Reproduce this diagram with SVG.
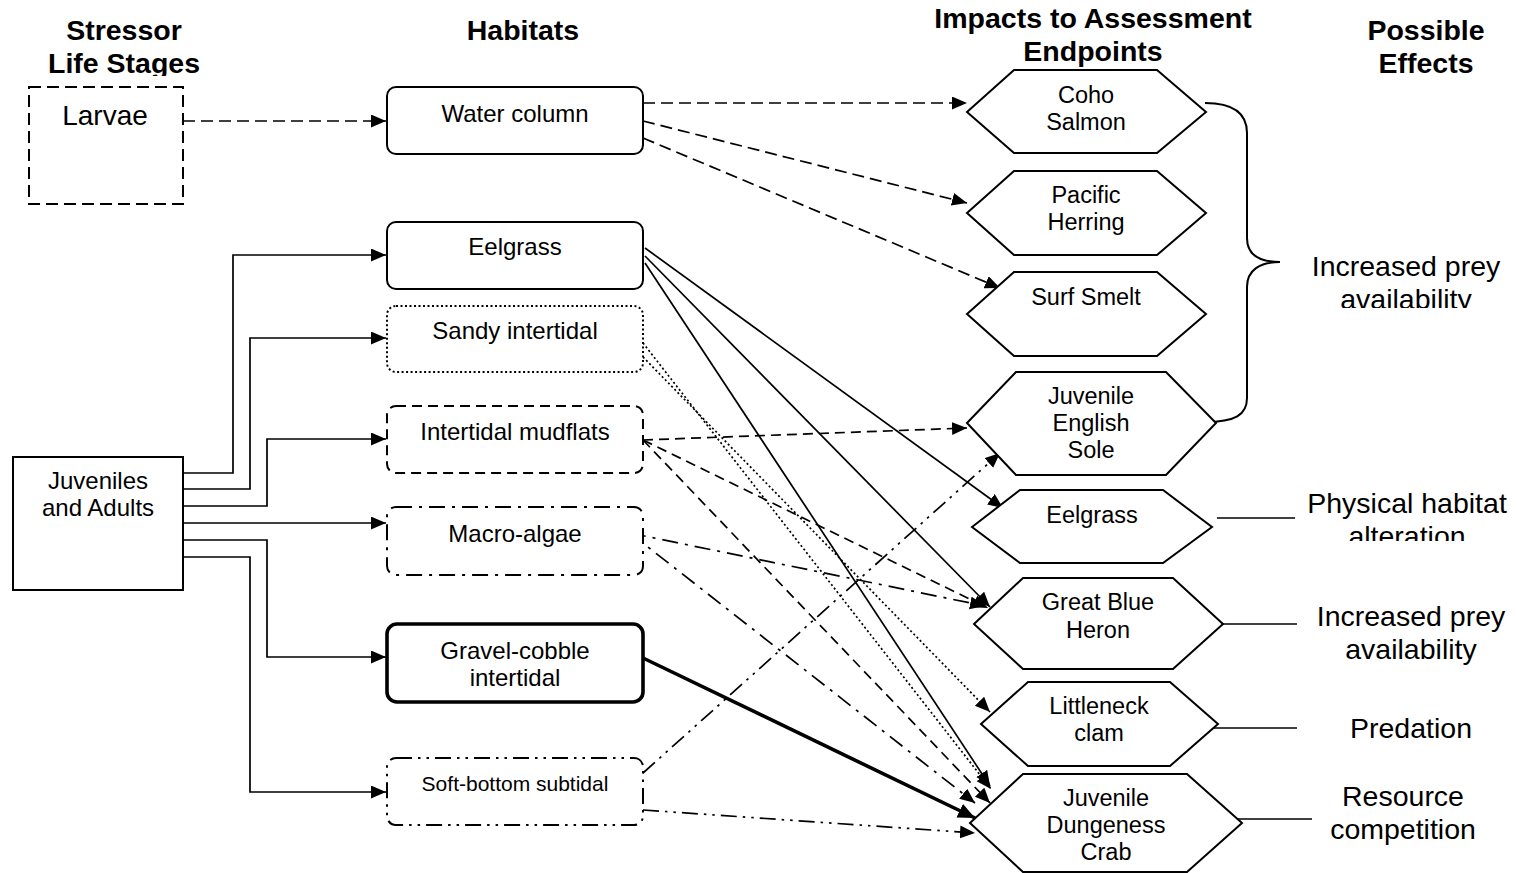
<svg xmlns="http://www.w3.org/2000/svg" width="1517" height="873" viewBox="0 0 1517 873">
  <style>
    text { font-family: "Liberation Sans", Arial, sans-serif; fill: #000; text-anchor: middle; }
    .hdr { font-size: 28.5px; font-weight: bold; }
    .big { font-size: 28.5px; }
    .hab { font-size: 24px; }
    .hex-label { font-size: 23.5px; }
    .box { fill: #fff; stroke: #000; stroke-width: 2; }
    .hex { fill: #fff; stroke: #000; stroke-width: 2; stroke-linejoin: miter; }
    .ln { fill: none; stroke: #000; stroke-width: 1.7; }
    .solid { }
    .thick { stroke-width: 3.6; }
    .dash { stroke-dasharray: 12 6; }
    .dash2 { stroke-dasharray: 10 6; }
    .dot { stroke-dasharray: 2 2.5; }
    .dashdot { stroke-dasharray: 16 7 3 7; }
    .dashdotdot { stroke-dasharray: 16 6 2.5 6 2.5 6; }
  </style>
  <defs>
    <marker id="arrow" markerUnits="userSpaceOnUse" markerWidth="16" markerHeight="14" refX="15" refY="6.5" orient="auto">
      <path d="M0,0 L15,6.5 L0,13 z" fill="#000"/>
    </marker>
    <marker id="arrow-lg" markerUnits="userSpaceOnUse" markerWidth="18" markerHeight="16" refX="17" refY="7.5" orient="auto">
      <path d="M0,0 L17,7.5 L0,15 z" fill="#000"/>
    </marker>
    <clipPath id="clip-life"><rect x="0" y="0" width="300" height="76"/></clipPath>
    <clipPath id="clip-avail1"><rect x="1290" y="280" width="227" height="28"/></clipPath>
    <clipPath id="clip-alter"><rect x="1290" y="518" width="227" height="23"/></clipPath>
  </defs>

  <!-- column headings -->
  <g id="headings">
    <text class="hdr" x="124" y="40">Stressor</text>
    <text class="hdr" x="124" y="73" clip-path="url(#clip-life)">Life Stages</text>
    <text class="hdr" x="523" y="40">Habitats</text>
    <text class="hdr" x="1093" y="28">Impacts to Assessment</text>
    <text class="hdr" x="1093" y="61">Endpoints</text>
    <text class="hdr" x="1426" y="40">Possible</text>
    <text class="hdr" x="1426" y="73">Effects</text>
  </g>

  <!-- connectors -->
  <g id="connectors">
    <!-- larvae -->
    <line class="ln dash" x1="183" y1="121" x2="386" y2="121" marker-end="url(#arrow)"/>
    <!-- juveniles and adults to habitats -->
    <polyline class="ln" points="183,473 233,473 233,255 386,255" marker-end="url(#arrow)"/>
    <polyline class="ln" points="183,489 250,489 250,338 386,338" marker-end="url(#arrow)"/>
    <polyline class="ln" points="183,506 267,506 267,439 386,439" marker-end="url(#arrow)"/>
    <polyline class="ln" points="183,523 386,523" marker-end="url(#arrow)"/>
    <polyline class="ln" points="183,540 267,540 267,657 386,657" marker-end="url(#arrow)"/>
    <polyline class="ln" points="183,557 250,557 250,792 386,792" marker-end="url(#arrow)"/>

    <!-- water column -->
    <line class="ln dash" x1="643" y1="103" x2="967" y2="103" marker-end="url(#arrow)"/>
    <line class="ln dash" x1="643" y1="121" x2="967" y2="203" marker-end="url(#arrow)"/>
    <line class="ln dash" x1="643" y1="138" x2="1000" y2="288" marker-end="url(#arrow)"/>

    <!-- eelgrass -->
    <line class="ln" x1="645" y1="248" x2="1003" y2="508" marker-end="url(#arrow)"/>
    <line class="ln" x1="645" y1="256" x2="990" y2="607" marker-end="url(#arrow)"/>
    <line class="ln" x1="645" y1="263" x2="990" y2="786" marker-end="url(#arrow)"/>

    <!-- sandy intertidal -->
    <line class="ln dot" x1="643" y1="357" x2="990" y2="712" marker-end="url(#arrow)"/>
    <line class="ln dot" x1="643" y1="343" x2="991" y2="789" marker-end="url(#arrow)"/>

    <!-- intertidal mudflats -->
    <line class="ln dash2" x1="643" y1="440" x2="967" y2="428" marker-end="url(#arrow)"/>
    <line class="ln dash2" x1="643" y1="440" x2="988" y2="608" marker-end="url(#arrow)"/>
    <line class="ln dash2" x1="643" y1="440" x2="990" y2="803" marker-end="url(#arrow)"/>

    <!-- macro-algae -->
    <line class="ln dashdot" x1="630" y1="533" x2="985" y2="606" marker-end="url(#arrow)"/>
    <line class="ln dashdot" x1="630" y1="533" x2="975" y2="803" marker-end="url(#arrow)"/>

    <!-- gravel-cobble intertidal -->
    <line class="ln thick" x1="643" y1="658" x2="975" y2="818" marker-end="url(#arrow-lg)"/>

    <!-- soft-bottom subtidal -->
    <line class="ln dashdotdot" x1="643" y1="773" x2="1000" y2="453" marker-end="url(#arrow)"/>
    <line class="ln dashdotdot" x1="643" y1="810" x2="975" y2="833" marker-end="url(#arrow)"/>

    <!-- endpoints to effects -->
    <path class="ln" style="stroke-width:2" d="M1205,103 C1235,103 1247,115 1247,133 L1247,238 C1247,255 1260,262 1280,262 C1260,262 1247,270 1247,287 L1247,398 C1247,415 1235,422 1205,422"/>
    <line class="ln" x1="1217" y1="518" x2="1295" y2="518"/>
    <line class="ln" x1="1223" y1="624" x2="1297" y2="624"/>
    <line class="ln" x1="1213" y1="728" x2="1297" y2="728"/>
    <line class="ln" x1="1232" y1="819" x2="1312" y2="819"/>
  </g>

  <!-- stressor life stages -->
  <g id="larvae">
    <rect class="box dash" x="29" y="87" width="154" height="117"/>
    <text class="big" x="105" y="125" style="font-size:28px">Larvae</text>
  </g>
  <g id="juveniles-adults">
    <rect class="box" x="13" y="457" width="170" height="133"/>
    <text class="hab" x="98" y="489">Juveniles</text>
    <text class="hab" x="98" y="516">and Adults</text>
  </g>

  <!-- habitats -->
  <g id="water-column">
    <rect class="box" x="387" y="87" width="256" height="67" rx="9"/>
    <text class="hab" x="515" y="122">Water column</text>
  </g>
  <g id="eelgrass-habitat">
    <rect class="box" x="387" y="222" width="256" height="67" rx="9"/>
    <text class="hab" x="515" y="255">Eelgrass</text>
  </g>
  <g id="sandy-intertidal">
    <rect class="box dot" x="387" y="306" width="256" height="66" rx="9"/>
    <text class="hab" x="515" y="339">Sandy intertidal</text>
  </g>
  <g id="intertidal-mudflats">
    <rect class="box dash2" x="387" y="406" width="256" height="67" rx="9"/>
    <text class="hab" x="515" y="440">Intertidal mudflats</text>
  </g>
  <g id="macro-algae">
    <rect class="box dashdot" x="387" y="507" width="256" height="68" rx="9"/>
    <text class="hab" x="515" y="542">Macro-algae</text>
  </g>
  <g id="gravel-cobble">
    <rect class="box" style="stroke-width:3.6" x="387" y="624" width="256" height="78" rx="10"/>
    <text class="hab" x="515" y="659">Gravel-cobble</text>
    <text class="hab" x="515" y="686">intertidal</text>
  </g>
  <g id="soft-bottom">
    <rect class="box dashdotdot" x="387" y="758" width="256" height="67" rx="9"/>
    <text class="hab" x="515" y="791" style="font-size:21px">Soft-bottom subtidal</text>
  </g>

  <!-- assessment endpoints -->
  <g id="coho-salmon">
    <polygon class="hex" points="967,112 1014,70 1157,70 1206,112 1157,153 1014,153"/>
    <text class="hex-label" x="1086" y="103">Coho</text>
    <text class="hex-label" x="1086" y="130">Salmon</text>
  </g>
  <g id="pacific-herring">
    <polygon class="hex" points="967,213 1014,171 1157,171 1206,213 1157,255 1014,255"/>
    <text class="hex-label" x="1086" y="203">Pacific</text>
    <text class="hex-label" x="1086" y="230">Herring</text>
  </g>
  <g id="surf-smelt">
    <polygon class="hex" points="967,314 1014,272 1157,272 1206,314 1157,356 1014,356"/>
    <text class="hex-label" x="1086" y="305">Surf Smelt</text>
  </g>
  <g id="english-sole">
    <polygon class="hex" points="967,423 1016,372 1166,372 1216,423 1166,475 1016,475"/>
    <text class="hex-label" x="1091" y="404">Juvenile</text>
    <text class="hex-label" x="1091" y="431">English</text>
    <text class="hex-label" x="1091" y="458">Sole</text>
  </g>
  <g id="eelgrass-endpoint">
    <polygon class="hex" points="972,527 1020,490 1163,490 1212,527 1163,563 1020,563"/>
    <text class="hex-label" x="1092" y="523">Eelgrass</text>
  </g>
  <g id="great-blue-heron">
    <polygon class="hex" points="974,624 1023,578 1173,578 1223,624 1173,669 1023,669"/>
    <text class="hex-label" x="1098" y="610">Great Blue</text>
    <text class="hex-label" x="1098" y="638">Heron</text>
  </g>
  <g id="littleneck-clam">
    <polygon class="hex" points="981,724 1028,682 1170,682 1218,724 1170,766 1028,766"/>
    <text class="hex-label" x="1099" y="714">Littleneck</text>
    <text class="hex-label" x="1099" y="741">clam</text>
  </g>
  <g id="dungeness-crab">
    <polygon class="hex" points="970,823 1023,774 1187,774 1242,823 1187,872 1023,872"/>
    <text class="hex-label" x="1106" y="806">Juvenile</text>
    <text class="hex-label" x="1106" y="833">Dungeness</text>
    <text class="hex-label" x="1106" y="860">Crab</text>
  </g>

  <!-- possible effects -->
  <g id="effect-prey-1">
    <text class="big" x="1406" y="276">Increased prey</text>
    <text class="big" x="1406" y="309" clip-path="url(#clip-avail1)">availability</text>
  </g>
  <g id="effect-habitat">
    <text class="big" x="1407" y="513">Physical habitat</text>
    <text class="big" x="1407" y="546" clip-path="url(#clip-alter)">alteration</text>
  </g>
  <g id="effect-prey-2">
    <text class="big" x="1411" y="626">Increased prey</text>
    <text class="big" x="1411" y="659">availability</text>
  </g>
  <g id="effect-predation">
    <text class="big" x="1411" y="738">Predation</text>
  </g>
  <g id="effect-competition">
    <text class="big" x="1403" y="806">Resource</text>
    <text class="big" x="1403" y="839">competition</text>
  </g>
</svg>
